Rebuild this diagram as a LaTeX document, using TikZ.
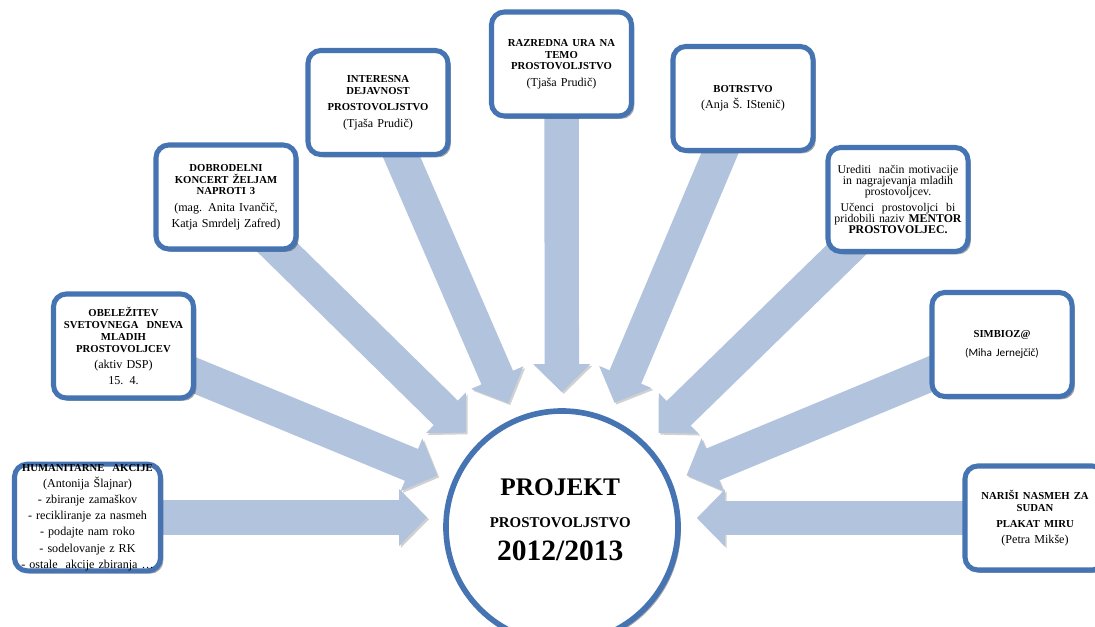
\documentclass[tikz,border=0pt]{standalone}
\usepackage{fontspec}
\setmainfont{Liberation Serif}
\setsansfont{Carlito}
\usetikzlibrary{arrows.meta,shadows}
\pgfdeclarelayer{background}
\pgfsetlayers{background,main}
\definecolor{ringblue}{RGB}{70,116,178}
\definecolor{arrowblue}{RGB}{178,195,222}
\newcommand{\bt}[1]{{\fontsize{7.6}{8.4}\selectfont\bfseries #1\par}}
\tikzset{
  pbox/.style={draw=ringblue, line width=3.6pt, fill=white, rounded corners=0.32cm,
    minimum width=3.5cm, minimum height=2.6cm, text width=3.3cm, align=center,
    inner sep=0pt, font=\fontsize{8.6}{11.5}\selectfont,
    drop shadow={shadow xshift=2pt, shadow yshift=-2pt, opacity=0.35, fill=black}},
  bigarrow/.style={draw=arrowblue, line width=0.86cm,
    -{Triangle[width=1.38cm,length=0.7cm]}, shorten >=0.4cm,
    preaction={draw=black!18, transform canvas={shift={(1.3pt,-1.3pt)}}}}
}

\begin{document}
\begin{tikzpicture}[x=0.025cm,y=-0.025cm]
   \useasboundingbox (0,0) rectangle (1095,626);
   \clip (0,0) rectangle (1095,626);

   \path (562,527) node[circle, draw=ringblue, line width=4pt, fill=white,
     minimum size=5.8cm, inner sep=0pt, align=center,
     drop shadow={shadow xshift=2pt, shadow yshift=-2pt, opacity=0.35, fill=black}] (proj)
   {
     \raisebox{0.18cm}[\height][\depth]{\parbox{4.4cm}{\centering
       {\fontsize{18}{20}\selectfont\bfseries PROJEKT\par}
       {\fontsize{10.6}{22.8}\selectfont\bfseries PROSTOVOLJSTVO\par}
       {\fontsize{21}{23.5}\selectfont\bfseries 2012/2013\par}}}
   };

   \path (87.5,517.5) node[pbox, minimum width=3.65cm, minimum height=2.65cm, text width=3.6cm] (hum)
   {
     \bt{HUMANITARNE\ \ AKCIJE}
     (Antonija Šlajnar)\par
     - zbiranje zamaškov\par
     - recikliranje za nasmeh\par
     - podajte nam roko\par
     - sodelovanje z RK\par
     - ostale\ \ akcije zbiranja \dots
   };
   \path (123.5,346) node[pbox] (obel)
   {
     \bt{OBELEŽITEV\\ SVETOVNEGA\ \ DNEVA\\ MLADIH\\ PROSTOVOLJCEV}
     (aktiv DSP)\par
     15. 4.
   };
   \path (226,197) node[pbox] (dobro)
   {
     \bt{DOBRODELNI\\ KONCERT ŽELJAM\\ NAPROTI 3}
     (mag. Anita Ivančič,\par
     Katja Smrdelj Zafred)
   };
   \path (378,102.5) node[pbox] (inter)
   {
     \bt{INTERESNA\\ DEJAVNOST}\vspace{3.5pt}
     \bt{PROSTOVOLJSTVO}
     (Tjaša Prudič)
   };
   \path (561.5,64) node[pbox] (razr)
   {
     \bt{RAZREDNA URA NA\\ TEMO\\ PROSTOVOLJSTVO}
     (Tjaša Prudič)
   };
   \path (743,98.5) node[pbox] (botr)
   {
     \bt{BOTRSTVO}
     (Anja Š. IStenič)
   };
   \path (898,199.5) node[pbox, font=\fontsize{8.4}{7.8}\selectfont] (ured)
   {
     \lineskiplimit=-5pt
     Urediti\ \ način motivacije\\ in nagrajevanja mladih\\ prostovoljcev.\par
     \vspace{4pt}
     Učenci\ \ prostovoljci\ \ bi\\ pridobili naziv \textbf{MENTOR}\\ \textbf{PROSTOVOLJEC.}
   };
   \path (1002,344.5) node[pbox] (simb)
   {
     \bt{SIMBIOZ@}\vspace{4pt}
     {\sffamily\fontsize{8}{10}\selectfont (Miha Jernejčič)\par}
   };
   \path (1035,518) node[pbox] (nar)
   {
     \bt{NARIŠI NASMEH ZA\\ SUDAN}\vspace{3pt}
     \bt{PLAKAT MIRU}
     (Petra Mikše)
   };

   \begin{pgfonlayer}{background}
     \draw[bigarrow] (hum.center) -- (hum.center -| proj.west);
     \foreach \b in {obel,dobro,inter,razr,botr,ured,simb}
       \draw[bigarrow] (\b.center) -- (proj);
     \draw[bigarrow] (nar.center) -- (nar.center -| proj.east);
   \end{pgfonlayer}
\end{tikzpicture}
\end{document}
